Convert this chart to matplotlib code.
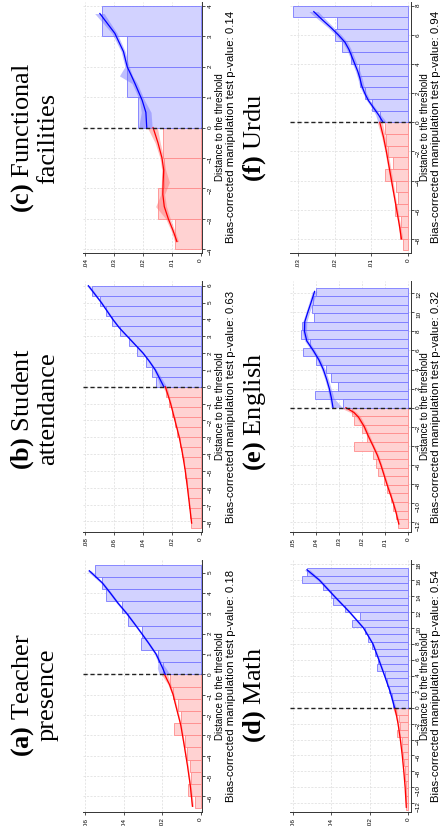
import numpy as np
import matplotlib
matplotlib.use("Agg")
import matplotlib.pyplot as plt

plt.rcParams['mathtext.fontset'] = 'custom'
plt.rcParams['mathtext.rm'] = 'Liberation Serif'
plt.rcParams['mathtext.bf'] = 'Liberation Serif:bold'

# ---- (a) Teacher presence ----
a_bin = 0.6
a_left_bars = [0.0028, 0.0066, 0.0049, 0.0054, 0.0071, 0.0080, 0.0136, 0.0101, 0.0115, 0.0141, 0.0160]
a_right_bars = [0.0198, 0.0223, 0.0311, 0.0306, 0.0376, 0.0410, 0.0494, 0.0515, 0.0553]
a_left_d = [-6.5, -5.5, -4.5, -3.5, -2.5, -1.5, -1.0, -0.5, 0.0]
a_left_den = [0.0042, 0.0053, 0.0068, 0.0085, 0.0103, 0.0130, 0.0143, 0.0162, 0.0188]
a_left_lo = [0.0036, 0.0049, 0.0064, 0.0081, 0.0099, 0.0125, 0.0137, 0.0154, 0.0172]
a_left_hi = [0.0048, 0.0058, 0.0072, 0.0090, 0.0107, 0.0135, 0.0149, 0.0170, 0.0205]
a_right_d = [0.0, 0.3, 0.6, 1.0, 1.5, 2.0, 2.5, 3.0, 3.5, 4.0, 4.5, 5.1]
a_right_den = [0.0184, 0.0197, 0.0212, 0.0232, 0.0268, 0.0306, 0.0345, 0.0385, 0.0430, 0.0470, 0.0512, 0.0580]
a_right_lo = [0.0160, 0.0180, 0.0204, 0.0226, 0.0262, 0.0300, 0.0339, 0.0378, 0.0423, 0.0463, 0.0504, 0.0570]
a_right_hi = [0.0215, 0.0225, 0.0222, 0.0240, 0.0275, 0.0313, 0.0352, 0.0393, 0.0438, 0.0478, 0.0521, 0.0592]

# ---- (b) Student attendance ----
b_bin = 0.6
b_left_bars = [0.0064, 0.0071, 0.0079, 0.0087, 0.0096, 0.0105, 0.0114, 0.0130, 0.0145, 0.0162,
               0.0180, 0.0198, 0.0218, 0.0240]
b_right_bars = [0.0310, 0.0340, 0.0380, 0.0440, 0.0500, 0.0557, 0.0615, 0.0657, 0.0696, 0.0754]
b_left_d = [-8.1, -7.0, -6.0, -5.0, -4.0, -3.0, -2.0, -1.0, -0.5, 0.0]
b_left_den = [0.0062, 0.0077, 0.0091, 0.0106, 0.0125, 0.0148, 0.0178, 0.0208, 0.0226, 0.0245]
b_left_lo = [0.0058, 0.0073, 0.0087, 0.0102, 0.0121, 0.0144, 0.0173, 0.0202, 0.0218, 0.0232]
b_left_hi = [0.0066, 0.0081, 0.0095, 0.0110, 0.0129, 0.0152, 0.0183, 0.0214, 0.0234, 0.0262]
b_right_d = [0.0, 0.5, 1.0, 1.5, 2.0, 2.5, 3.0, 3.5, 4.0, 4.5, 5.0, 5.5, 6.0]
b_right_den = [0.0255, 0.0285, 0.0315, 0.0355, 0.0400, 0.0455, 0.0510, 0.0565, 0.0610, 0.0650, 0.0690, 0.0735, 0.0780]
b_right_lo = [0.0235, 0.0270, 0.0305, 0.0347, 0.0392, 0.0447, 0.0502, 0.0557, 0.0602, 0.0642, 0.0682, 0.0726, 0.0768]
b_right_hi = [0.0280, 0.0300, 0.0325, 0.0363, 0.0408, 0.0463, 0.0518, 0.0573, 0.0618, 0.0658, 0.0698, 0.0744, 0.0792]

# ---- (c) Functional facilities ----
c_bin = 1.0
c_left_bars = [0.0088, 0.0149, 0.0126, 0.0129]
c_right_bars = [0.0216, 0.0255, 0.0257, 0.0344]
c_left_d = [-3.75, -3.4, -3.0, -2.6, -2.2, -1.8, -1.4, -1.0, -0.5, 0.0]
c_left_den = [0.0082, 0.0095, 0.0112, 0.0126, 0.0131, 0.0130, 0.0128, 0.0134, 0.0148, 0.0165]
c_left_lo = [0.0076, 0.0089, 0.0105, 0.0118, 0.0125, 0.0108, 0.0121, 0.0128, 0.0140, 0.0150]
c_left_hi = [0.0090, 0.0102, 0.0121, 0.0156, 0.0138, 0.0136, 0.0135, 0.0141, 0.0158, 0.0185]
c_right_d = [0.0, 0.5, 0.9, 1.45, 1.7, 2.0, 2.5, 3.1, 3.75]
c_right_den = [0.0187, 0.0190, 0.0203, 0.0228, 0.0240, 0.0255, 0.0268, 0.0298, 0.0350]
c_right_lo = [0.0168, 0.0172, 0.0195, 0.0220, 0.0236, 0.0248, 0.0262, 0.0290, 0.0335]
c_right_hi = [0.0215, 0.0206, 0.0212, 0.0238, 0.0282, 0.0263, 0.0276, 0.0308, 0.0368]

# ---- (d) Math ----
d_bin = 0.92
d_left_bars = [0.0008, 0.0010, 0.0011, 0.0013, 0.0015, 0.0018, 0.0021, 0.0025, 0.0029, 0.0033,
               0.0057, 0.0042, 0.0047, 0.0062]
d_right_bars = [0.0078, 0.0085, 0.0097, 0.0110, 0.0118, 0.0160, 0.0158, 0.0172, 0.0190, 0.0210,
                0.0225, 0.0292, 0.0250, 0.0330, 0.0390, 0.0400, 0.0443, 0.0551, 0.0527]
d_left_d = [-12.5, -10.0, -8.0, -6.0, -4.0, -2.0, -1.0, 0.0]
d_left_den = [0.0009, 0.0015, 0.0022, 0.0030, 0.0040, 0.0052, 0.0060, 0.0070]
d_left_lo = [0.0006, 0.0012, 0.0019, 0.0027, 0.0036, 0.0047, 0.0054, 0.0060]
d_left_hi = [0.0012, 0.0018, 0.0025, 0.0033, 0.0044, 0.0057, 0.0066, 0.0080]
d_right_d = [0.0, 2.0, 4.0, 6.0, 8.0, 10.0, 12.0, 14.0, 16.0, 17.3]
d_right_den = [0.0070, 0.0093, 0.0122, 0.0152, 0.0183, 0.0232, 0.0305, 0.0385, 0.0462, 0.0527]
d_right_lo = [0.0062, 0.0088, 0.0117, 0.0147, 0.0178, 0.0226, 0.0298, 0.0377, 0.0452, 0.0512]
d_right_hi = [0.0078, 0.0098, 0.0127, 0.0157, 0.0188, 0.0238, 0.0312, 0.0393, 0.0472, 0.0542]

# ---- (e) English ----
e_bin = 0.9
e_left_bars = [0.0043, 0.0054, 0.0065, 0.0075, 0.0090, 0.0103, 0.0130, 0.0140, 0.0152, 0.0235,
               0.0178, 0.0200, 0.0235, 0.0245]
e_right_bars = [0.0283, 0.0406, 0.0304, 0.0333, 0.0358, 0.0399, 0.0457, 0.0428, 0.0464, 0.0460,
                0.0410, 0.0416, 0.0413, 0.0399]
e_left_d = [-12.2, -11.0, -10.0, -9.0, -8.0, -7.0, -6.0, -5.0, -4.0, -3.0, -2.0, -1.0, -0.5, 0.0]
e_left_den = [0.0040, 0.0052, 0.0064, 0.0078, 0.0092, 0.0105, 0.0118, 0.0133, 0.0152, 0.0172,
              0.0190, 0.0215, 0.0235, 0.0270]
e_left_lo = [0.0036, 0.0048, 0.0060, 0.0073, 0.0087, 0.0100, 0.0113, 0.0127, 0.0146, 0.0165,
             0.0182, 0.0205, 0.0223, 0.0250]
e_left_hi = [0.0044, 0.0056, 0.0068, 0.0083, 0.0097, 0.0110, 0.0123, 0.0139, 0.0158, 0.0179,
             0.0198, 0.0225, 0.0250, 0.0295]
e_right_d = [0.0, 1.0, 2.0, 3.0, 4.0, 5.0, 6.0, 7.0, 8.0, 9.0, 10.0, 11.0, 12.2]
e_right_den = [0.0326, 0.0333, 0.0342, 0.0354, 0.0368, 0.0387, 0.0412, 0.0440, 0.0450, 0.0449,
               0.0436, 0.0422, 0.0406]
e_right_lo = [0.0285, 0.0322, 0.0334, 0.0346, 0.0360, 0.0379, 0.0404, 0.0431, 0.0441, 0.0440,
              0.0428, 0.0413, 0.0396]
e_right_hi = [0.0335, 0.0342, 0.0350, 0.0362, 0.0376, 0.0395, 0.0420, 0.0449, 0.0459, 0.0458,
              0.0444, 0.0431, 0.0416]

# ---- (f) Urdu ----
f_bin = 0.8
f_left_bars = [0.0014, 0.0021, 0.0018, 0.0036, 0.0027, 0.0032, 0.0064, 0.0041, 0.0055, 0.0059, 0.0064]
f_right_bars = [0.0077, 0.0097, 0.0118, 0.0130, 0.0134, 0.0155, 0.0179, 0.0200, 0.0195, 0.0314]
f_left_d = [-8.0, -7.0, -6.0, -5.0, -4.0, -3.0, -2.0, -1.0, 0.0]
f_left_den = [0.0018, 0.0024, 0.0031, 0.0038, 0.0045, 0.0052, 0.0059, 0.0067, 0.0077]
f_left_lo = [0.0014, 0.0021, 0.0028, 0.0035, 0.0041, 0.0048, 0.0055, 0.0062, 0.0070]
f_left_hi = [0.0022, 0.0027, 0.0034, 0.0041, 0.0049, 0.0056, 0.0063, 0.0072, 0.0084]
f_right_d = [0.0, 0.5, 1.0, 1.5, 2.0, 2.5, 3.0, 3.5, 4.0, 4.5, 5.0, 5.5, 6.0, 6.5, 7.0, 7.6]
f_right_den = [0.0068, 0.0080, 0.0094, 0.0108, 0.0118, 0.0126, 0.0131, 0.0137, 0.0145, 0.0153,
               0.0161, 0.0172, 0.0190, 0.0210, 0.0232, 0.0257]
f_right_lo = [0.0058, 0.0074, 0.0089, 0.0103, 0.0113, 0.0120, 0.0125, 0.0131, 0.0139, 0.0147,
              0.0155, 0.0165, 0.0182, 0.0202, 0.0222, 0.0245]
f_right_hi = [0.0082, 0.0088, 0.0099, 0.0113, 0.0123, 0.0132, 0.0137, 0.0143, 0.0151, 0.0159,
              0.0167, 0.0179, 0.0198, 0.0218, 0.0242, 0.0270]

titles = {
    'a': "$\\mathbf{(a)}$ Teacher\npresence",
    'b': "$\\mathbf{(b)}$ Student\nattendance",
    'c': "$\\mathbf{(c)}$ Functional\nfacilities",
    'd': "$\\mathbf{(d)}$ Math",
    'e': "$\\mathbf{(e)}$ English",
    'f': "$\\mathbf{(f)}$ Urdu",
}
pvalues = {'a': '0.18', 'b': '0.63', 'c': '0.14', 'd': '0.54', 'e': '0.32', 'f': '0.94'}
dens_ticks = {
    'a': [0, .02, .04, .06], 'b': [0, .02, .04, .06, .08], 'c': [0, .01, .02, .03, .04],
    'd': [0, .02, .04, .06], 'e': [0, .01, .02, .03, .04, .05], 'f': [0, .01, .02, .03],
}
dist_ticks = {
    'a': list(range(-6, 6)), 'b': list(range(-8, 7)), 'c': list(range(-4, 5)),
    'd': list(range(-12, 19, 2)), 'e': list(range(-12, 13, 2)), 'f': list(range(-8, 9, 2)),
}

W, H = 443, 826
BLUE, RED = '#0000ff', '#ff0000'

def fx(px):
    return px / W

def fy(py):
    return 1 - py / H

panels = {
    'a': (a_bin, a_left_bars, a_right_bars, (a_left_d, a_left_den, a_left_lo, a_left_hi),
          (a_right_d, a_right_den, a_right_lo, a_right_hi)),
    'b': (b_bin, b_left_bars, b_right_bars, (b_left_d, b_left_den, b_left_lo, b_left_hi),
          (b_right_d, b_right_den, b_right_lo, b_right_hi)),
    'c': (c_bin, c_left_bars, c_right_bars, (c_left_d, c_left_den, c_left_lo, c_left_hi),
          (c_right_d, c_right_den, c_right_lo, c_right_hi)),
    'd': (d_bin, d_left_bars, d_right_bars, (d_left_d, d_left_den, d_left_lo, d_left_hi),
          (d_right_d, d_right_den, d_right_lo, d_right_hi)),
    'e': (e_bin, e_left_bars, e_right_bars, (e_left_d, e_left_den, e_left_lo, e_left_hi),
          (e_right_d, e_right_den, e_right_lo, e_right_hi)),
    'f': (f_bin, f_left_bars, f_right_bars, (f_left_d, f_left_den, f_left_lo, f_left_hi),
          (f_right_d, f_right_den, f_right_lo, f_right_hi)),
}

# page is drawn turned a quarter: the distance axis runs up the right edge,
# density grows to the left
# pixel boxes: (left, right, top, bottom), y range of distance, pixel of density 0 / top tick
layout = {
    'c': (83, 202, 2, 252.5, (-4.11, 4.13), 200.5, 85.5),
    'b': (83, 202, 281, 532, (-8.63, 6.28), 200.5, 85.5),
    'a': (83, 202, 560, 812, (-6.78, 5.63), 200.5, 85.5),
    'f': (290, 410.5, 2, 252.5, (-8.94, 8.26), 408, 298),
    'e': (290, 410.5, 281, 532, (-13.04, 13.29), 408, 293),
    'd': (290, 410.5, 560, 812, (-13.09, 18.53), 408, 293),
}

fig = plt.figure(figsize=(W / 100, H / 100), dpi=100)

for key, (binw, lbars, rbars, lline, rline) in panels.items():
    x0, x1, y0, y1, ylim, zero_px, top_px = layout[key]
    ax = fig.add_axes([fx(x0), fy(y1), fx(x1 - x0), (y1 - y0) / H])

    top = dens_ticks[key][-1]
    per_px = top / (zero_px - top_px)
    ax.set_xlim(top + (top_px - x0) * per_px, -(x1 - zero_px) * per_px)
    ax.set_ylim(*ylim)

    lc = -binw * (np.arange(len(lbars))[::-1] + 0.5)
    rc = binw * (np.arange(len(rbars)) + 0.5)
    ax.barh(lc, lbars, height=binw, color='#ffd2d2', edgecolor='#ff8c8c', lw=0.6, zorder=2)
    ax.barh(rc, rbars, height=binw, color='#d2d2ff', edgecolor='#7878ff', lw=0.6, zorder=2)

    d, den, lo, hi = lline
    ax.fill_betweenx(d, lo, hi, color='#ff7070', alpha=0.45, lw=0, zorder=3)
    ax.plot(den, d, color=RED, lw=0.9, zorder=4)
    d, den, lo, hi = rline
    ax.fill_betweenx(d, lo, hi, color='#7070ff', alpha=0.45, lw=0, zorder=3)
    ax.plot(den, d, color=BLUE, lw=0.9, zorder=4)

    ax.axhline(0, color='#222222', lw=1.0, ls=(0, (3, 2)), zorder=5)

    ax.set_xticks(dens_ticks[key])
    ax.set_xticklabels(['0' if v == 0 else ('%.2f' % v)[1:] for v in dens_ticks[key]])
    ax.set_yticks(dist_ticks[key])
    ax.yaxis.tick_right()
    ax.grid(True, color='#dcdcdc', lw=0.5, ls=(0, (3, 2)))
    ax.set_axisbelow(True)
    for side in ('top', 'left'):
        ax.spines[side].set_visible(False)
    for side in ('bottom', 'right'):
        ax.spines[side].set_linewidth(0.7)
        ax.spines[side].set_color('#333333')
    ax.tick_params(axis='both', direction='out', length=2.5, width=0.6, color='#333333',
                   labelsize=4.6, pad=1.5, labelrotation=90)
    for lab in ax.get_xticklabels() + ax.get_yticklabels():
        lab.set_family('Liberation Sans')

# panel titles and axis notes
title_pos = {'c': (34, 138), 'b': (34, 409), 'a': (34, 695),
             'f': (255, 138), 'e': (255, 412), 'd': (255, 695)}
for key, (tx, ty) in title_pos.items():
    fig.text(fx(tx), fy(ty), titles[key], rotation=90, ha='center', va='center',
             fontsize=19, family='Liberation Serif', linespacing=1.05, multialignment='center')

note_x = {'a': (220, 231), 'b': (220, 231), 'c': (220, 231),
          'd': (425, 436), 'e': (425, 436), 'f': (425, 436)}
for key, (nx1, nx2) in note_x.items():
    _, _, y0, y1, _, _, _ = layout[key]
    yc = (y0 + y1) / 2
    fig.text(fx(nx1), fy(yc), 'Distance to the threshold', rotation=90, ha='center',
             va='center', fontsize=7, family='Liberation Sans')
    fig.text(fx(nx2), fy(yc), 'Bias-corrected manipulation test p-value: ' + pvalues[key],
             rotation=90, ha='center', va='center', fontsize=8.2, family='Liberation Sans')

fig.savefig('out.png', dpi=100)
